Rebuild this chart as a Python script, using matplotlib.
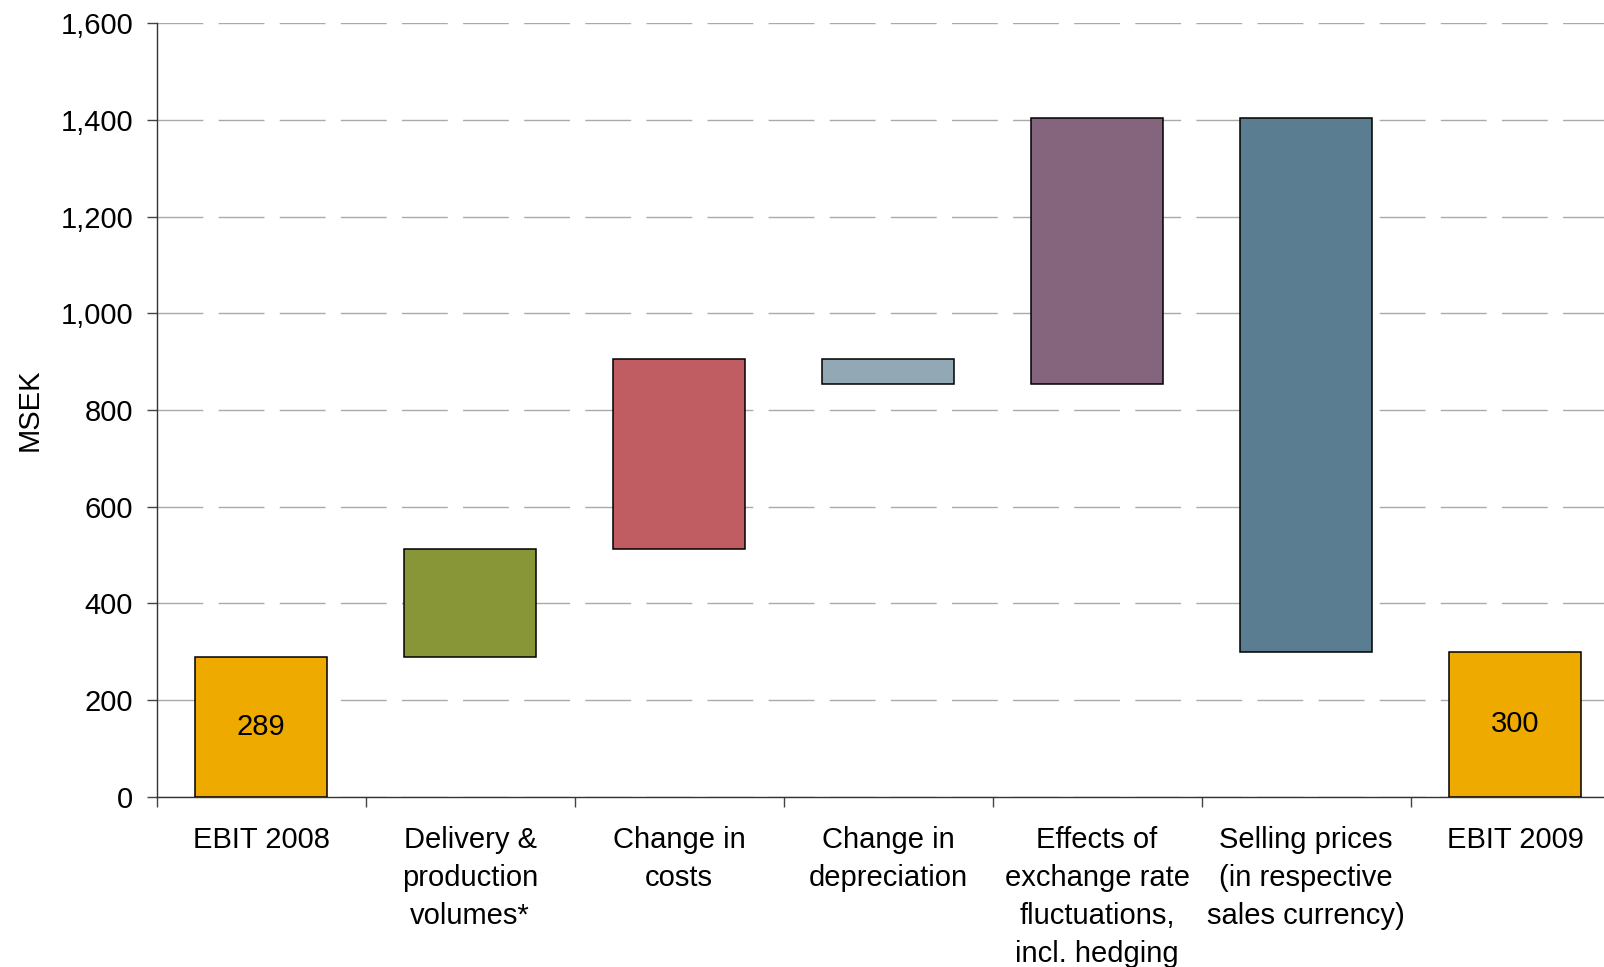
import matplotlib.pyplot as plt
from matplotlib.ticker import FuncFormatter

plt.rcParams['font.family'] = ['Liberation Sans', 'DejaVu Sans']

# Data (MSEK)
categories = ['EBIT 2008', 'Delivery &\nproduction\nvolumes*', 'Change in\ncosts',
              'Change in\ndepreciation', 'Effects of\nexchange rate\nfluctuations,\nincl. hedging',
              'Selling prices\n(in respective\nsales currency)', 'EBIT 2009']
ebit_2008 = 289
changes = [223, 394, -53, 552, -1105]
ebit_2009 = 300
colors = ['#EFAA00', '#889638', '#C05D63', '#93A8B5', '#85657D', '#5B7D91', '#EFAA00']

# waterfall bottoms / heights
bottoms = [0]
heights = [ebit_2008]
level = ebit_2008
for c in changes:
    bottoms.append(min(level, level + c))
    heights.append(abs(c))
    level += c
bottoms.append(0)
heights.append(ebit_2009)

fig = plt.figure(figsize=(16.04, 9.67), dpi=100)
ax = fig.add_axes([0.0977, 0.176, 0.912, 0.7998])

x = list(range(len(categories)))
ax.bar(x, heights, bottom=bottoms, width=0.63, color=colors,
       edgecolor='black', linewidth=1.1, zorder=3)

ax.text(0, ebit_2008 / 2, str(ebit_2008), ha='center', va='center', fontsize=21, zorder=4)
ax.text(6, ebit_2009 / 2, str(ebit_2009), ha='center', va='center', fontsize=21, zorder=4)

ax.set_xlim(-0.5, 6.5)
ax.set_ylim(0, 1600)
ax.set_yticks(range(0, 1601, 200))
ax.yaxis.set_major_formatter(FuncFormatter(lambda v, p: f'{int(v):,}'))
ax.yaxis.grid(True, color='#AAAAAA', linewidth=1.0, linestyle=(0, (33, 11)), zorder=0)

# labels at bar centres, tick marks between categories
ax.set_xticks(x)
ax.set_xticklabels(categories, fontsize=21, linespacing=1.45, va='top')
ax.tick_params(axis='x', which='major', length=0, pad=21)
ax.set_xticks([i - 0.5 for i in range(len(categories) + 1)], minor=True)
ax.tick_params(axis='x', which='minor', length=7, width=1, color='#444444', direction='out')
ax.tick_params(axis='y', labelsize=21, length=7, width=1, color='#444444', pad=10)

ax.set_ylabel('MSEK', fontsize=21, labelpad=12)

for s in ['top', 'right']:
    ax.spines[s].set_visible(False)
for s in ['left', 'bottom']:
    ax.spines[s].set_color('#333333')
    ax.spines[s].set_linewidth(1.0)

plt.savefig('out.png', dpi=100)
